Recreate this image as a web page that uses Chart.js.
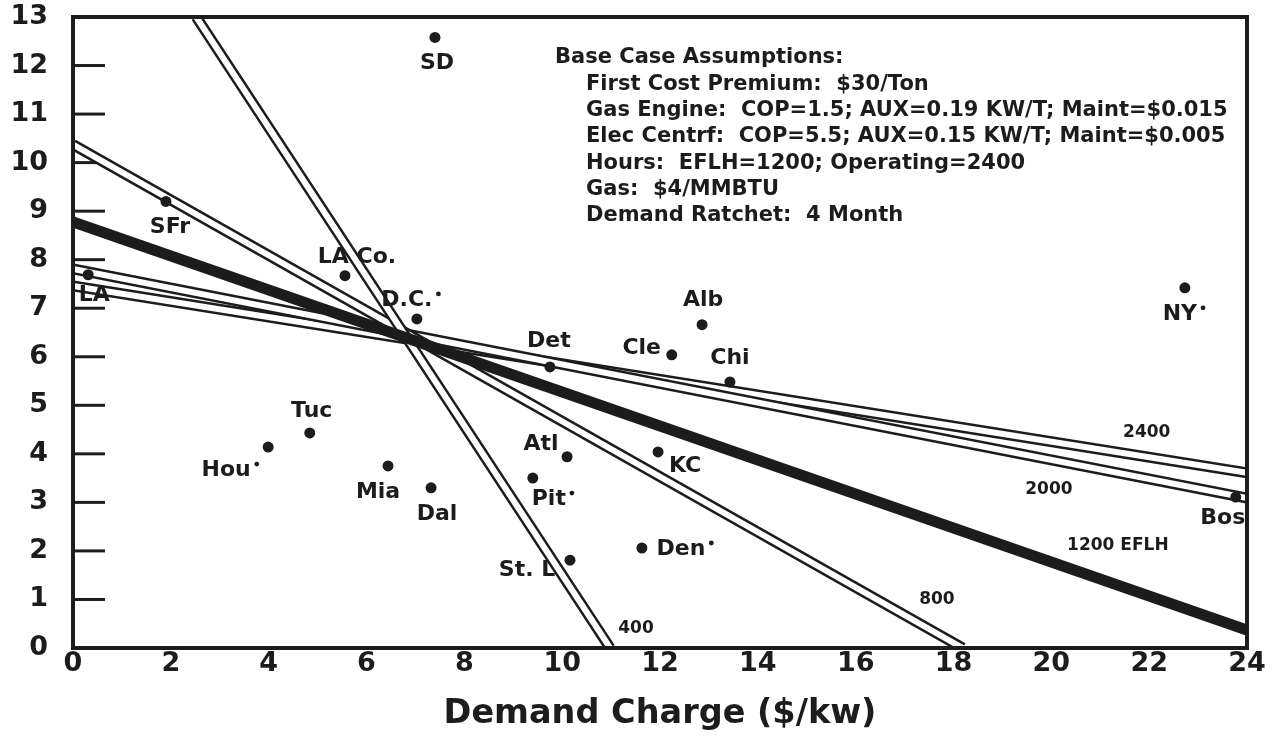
<!DOCTYPE html>
<html>
<head>
<meta charset="utf-8">
<script src="https://cdn.jsdelivr.net/npm/chart.js@4.4.1/dist/chart.umd.min.js"></script>
<style>
  html, body { margin: 0; padding: 0; background: #fff; }
  #wrap { width: 1288px; height: 743px; }
</style>
</head>
<body>
<div id="wrap"><canvas id="chart" width="1288" height="743"></canvas></div>
<script>
// city points
const cities = ['SD', 'SFr', 'LA', 'LA Co.', 'D.C.', 'Det', 'Cle', 'Alb', 'Chi', 'NY',
                'Tuc', 'Hou', 'Mia', 'Dal', 'Atl', 'Pit', 'KC', 'St. L', 'Den', 'Bos'];
const cityX = [7.4, 1.9, 0.31, 5.56, 7.03, 9.75, 12.24, 12.86, 13.43, 22.73,
               4.84, 3.99, 6.44, 7.32, 10.1, 9.4, 11.96, 10.16, 11.63, 23.77];
const cityY = [12.58, 9.2, 7.69, 7.67, 6.78, 5.79, 6.04, 6.66, 5.48, 7.42,
               4.43, 4.14, 3.75, 3.30, 3.94, 3.5, 4.04, 1.81, 2.06, 3.11];

// break-even lines (end points)
const line400X = [2.52, 10.98],  line400Y = [13, 0];
const line800X = [0, 18.19],     line800Y = [10.37, 0];
const line1200X = [0, 24],       line1200Y = [8.78, 0.37];
const line2000X = [0, 24],       line2000Y = [7.81, 3.09];
const line2400X = [0, 24],       line2400Y = [7.46, 3.61];

// line labels
const lineLabels = ['2400', '2000', '1200 EFLH', '800', '400'];
const lineLabelX = [21.95, 19.95, 21.36, 17.66, 11.51];
const lineLabelY = [4.43, 3.26, 2.10, 0.99, 0.41];

const notes = [
  'Base Case Assumptions:',
  'First Cost Premium:  $30/Ton',
  'Gas Engine:  COP=1.5; AUX=0.19 KW/T; Maint=$0.015',
  'Elec Centrf:  COP=5.5; AUX=0.15 KW/T; Maint=$0.005',
  'Hours:  EFLH=1200; Operating=2400',
  'Gas:  $4/MMBTU',
  'Demand Ratchet:  4 Month'
];

const ink = '#1c1c1c';
const FONT = 'DejaVu Sans';

// label placement (pixel offsets from the dot to the text centre)
const labelOffset = {
  'SD': [2, 26], 'SFr': [4, 26], 'LA': [6, 21], 'LA Co.': [12, -18], 'D.C.': [-10, -19],
  'Det': [-1, -26], 'Cle': [-30, -7], 'Alb': [1, -24], 'Chi': [0, -24], 'NY': [-5, 26],
  'Tuc': [2, -22], 'Hou': [-42, 23], 'Mia': [-10, 26], 'Dal': [6, 26], 'Atl': [-26, -12],
  'Pit': [16, 21], 'KC': [27, 14], 'St. L': [-43, 10], 'Den': [39, 1], 'Bos': [-13, 21]
};
const withMark = ['D.C.', 'NY', 'Hou', 'Pit', 'Den'];

function pts(xs, ys) { return xs.map((v, i) => ({ x: v, y: ys[i] })); }

function tube(xs, ys, order) {
  return [
    { data: pts(xs, ys), showLine: true, borderColor: ink, borderWidth: 11, pointRadius: 0, order: order + 1 },
    { data: pts(xs, ys), showLine: true, borderColor: '#fff', borderWidth: 6, pointRadius: 0, order: order }
  ];
}

const decor = {
  id: 'decor',
  beforeDatasetsDraw(chart) {
    const { ctx, chartArea: a, scales: { y } } = chart;
    ctx.save();
    ctx.strokeStyle = ink;
    ctx.lineWidth = 3;
    for (let v = 1; v < 13; v++) {
      const py = y.getPixelForValue(v);
      ctx.beginPath();
      ctx.moveTo(a.left, py);
      ctx.lineTo(a.left + 32, py);
      ctx.stroke();
    }
    ctx.restore();
  },
  afterDatasetsDraw(chart) {
    const { ctx, chartArea: a, scales: { x, y } } = chart;
    ctx.save();
    ctx.strokeStyle = ink;
    ctx.lineWidth = 4;
    ctx.strokeRect(a.left, a.top, a.right - a.left, a.bottom - a.top);

    ctx.fillStyle = ink;
    ctx.textAlign = 'center';
    ctx.textBaseline = 'middle';

    // city labels
    ctx.font = 'bold 22px "' + FONT + '"';
    const meta = chart.getDatasetMeta(0);
    cities.forEach((c, i) => {
      const el = meta.data[i];
      const off = labelOffset[c];
      const tx = el.x + off[0], ty = el.y + off[1];
      ctx.fillText(c, tx, ty);
      if (withMark.includes(c)) {
        const w = ctx.measureText(c).width;
        ctx.beginPath();
        ctx.arc(tx + w / 2 + 6, ty - 6, 2.4, 0, Math.PI * 2);
        ctx.fill();
      }
    });

    // line labels
    ctx.font = 'bold 17px "' + FONT + '"';
    lineLabels.forEach((t, i) => {
      ctx.fillText(t, x.getPixelForValue(lineLabelX[i]), y.getPixelForValue(lineLabelY[i]));
    });

    // assumptions block
    ctx.textAlign = 'left';
    ctx.font = 'bold 21px "' + FONT + '"';
    notes.forEach((t, i) => {
      ctx.fillText(t, i === 0 ? 555 : 586, 58 + i * 26.3);
    });
    ctx.restore();
  }
};

new Chart(document.getElementById('chart'), {
  type: 'scatter',
  data: {
    datasets: [
      { data: pts(cityX, cityY), pointRadius: 5.5, pointBackgroundColor: ink, pointBorderWidth: 0, order: 0 },
      { data: pts(line1200X, line1200Y), showLine: true, borderColor: ink, borderWidth: 11, pointRadius: 0, order: 1 },
      ...tube(line400X, line400Y, 2),
      ...tube(line800X, line800Y, 4),
      ...tube(line2000X, line2000Y, 6),
      ...tube(line2400X, line2400Y, 8)
    ]
  },
  options: {
    responsive: false,
    animation: false,
    events: [],
    layout: { padding: { left: 0, right: 41, top: 17, bottom: 0 } },
    plugins: { legend: { display: false }, tooltip: { enabled: false } },
    scales: {
      x: {
        type: 'linear', min: 0, max: 24,
        afterFit: s => { s.height = 95; s.paddingLeft = 0; s.paddingRight = 0; },
        grid: { display: false, drawTicks: false },
        border: { display: false },
        ticks: { stepSize: 2, padding: 0, color: ink, font: { family: FONT, weight: 'bold', size: 27 } },
        title: {
          display: true, text: 'Demand Charge ($/kw)', color: ink,
          font: { family: FONT, weight: 'bold', size: 33.5 }, padding: { top: 0, bottom: 9 }
        }
      },
      y: {
        min: 0, max: 13,
        afterFit: s => { s.width = 73; s.paddingTop = 0; s.paddingBottom = 0; },
        grid: { display: false, drawTicks: false },
        border: { display: false },
        ticks: { stepSize: 1, padding: 25, color: ink, font: { family: FONT, weight: 'bold', size: 27 } }
      }
    }
  },
  plugins: [decor]
});
</script>
</body>
</html>
